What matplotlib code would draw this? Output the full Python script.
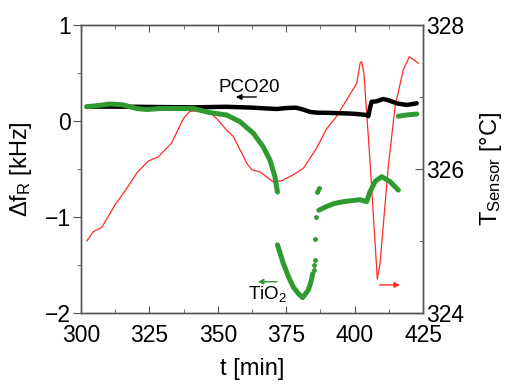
import matplotlib
matplotlib.use('Agg')
import matplotlib.pyplot as plt
from matplotlib.ticker import MultipleLocator

plt.rcParams['font.family'] = ['Liberation Sans', 'DejaVu Sans']
plt.rcParams['mathtext.default'] = 'regular'

# PCO20 sensor response
t_pco = [302.1, 310, 320, 330, 341, 353, 362, 371.5, 375, 378.5, 381.1, 383.7, 386.1, 390,
         395.9, 400, 404.4, 405.0, 405.5, 406.2, 408, 410.5, 412.5, 415.4, 419, 422.7]
f_pco = [0.149, 0.15, 0.148, 0.145, 0.142, 0.148, 0.14, 0.125, 0.135, 0.139, 0.12, 0.095, 0.087, 0.085,
         0.08, 0.075, 0.0625, 0.05, 0.12, 0.2, 0.205, 0.229, 0.215, 0.184, 0.167, 0.184]

# TiO2 sensor response (segments)
t_tio_a = [302.1, 306, 310.6, 315, 320.3, 324, 329, 335, 341, 347.1, 353.2, 358.1, 363, 366.6, 369.1, 370.9, 371.8]
f_tio_a = [0.149, 0.16, 0.177, 0.17, 0.13, 0.12, 0.13, 0.13, 0.13, 0.087, 0.0625, -0.007, -0.128, -0.27, -0.41, -0.58, -0.74]
t_tio_b = [371.8, 373.9, 375.8, 377.6, 379.5, 381.0, 383.1, 384.2, 384.7]
f_tio_b = [-1.29, -1.48, -1.62, -1.73, -1.80, -1.84, -1.76, -1.66, -1.59]
t_tio_dots = [385.0, 385.2, 385.5, 385.6, 385.8, 386.1, 386.5, 386.9]
f_tio_dots = [-1.55, -1.50, -1.45, -1.23, -1.00, -0.74, -0.72, -0.70]
t_tio_c = [386.9, 389.8, 392.5, 395.9, 399, 402, 404.4, 405.6, 407.5, 409.9, 412.9, 416]
f_tio_c = [-0.93, -0.89, -0.86, -0.84, -0.83, -0.82, -0.84, -0.74, -0.63, -0.58, -0.63, -0.72]
t_tio_d = [416, 419, 422.7]
f_tio_d = [0.05, 0.0625, 0.073]

# sensor temperature
t_temp = [302.1, 304.5, 307.6, 312.4, 316.7, 320.5, 324.6, 328.3, 333.1, 337.4, 339.8, 345.9, 349.6,
          353.2, 355.7, 360.6, 362.4, 365.4, 370.3, 373.5, 377.6, 381.3, 386.1, 389.8, 393.4, 397.1,
          400.8, 402.0, 402.6, 403.4, 405.6, 408.3, 409.3, 412.3, 414.8, 417.8, 420.0, 423.3]
T_temp = [325.00, 325.13, 325.19, 325.50, 325.73, 325.95, 326.11, 326.17, 326.36, 326.70, 326.80, 326.82, 326.70,
          326.54, 326.45, 326.08, 325.99, 325.96, 325.82, 325.84, 325.92, 326.01, 326.29, 326.56, 326.73, 326.96,
          327.19, 327.47, 327.49, 327.33, 326.13, 324.47, 324.69, 326.03, 326.87, 327.38, 327.56, 327.47]

green = '#2f9a2f'
red = '#ff2a2a'
spine_c = '#555555'

fig = plt.figure(figsize=(5.08, 3.87), dpi=100)
ax = fig.add_axes([81 / 508, 74 / 387, 342 / 508, 288 / 387])
ax2 = ax.twinx()

ax.plot(t_pco, f_pco, color='black', lw=3.2, solid_capstyle='round', solid_joinstyle='round', zorder=3)
for tt, ff in [(t_tio_a, f_tio_a), (t_tio_b, f_tio_b), (t_tio_c, f_tio_c), (t_tio_d, f_tio_d)]:
    ax.plot(tt, ff, color=green, lw=3.6, solid_capstyle='round', solid_joinstyle='round', zorder=4)
ax.plot(t_tio_dots, f_tio_dots, 'o', color=green, ms=3.5, mew=0, zorder=4)
ax2.plot(t_temp, T_temp, color=red, lw=0.9, zorder=5)

ax.set_xlim(300, 425)
ax.set_ylim(-2, 1)
ax2.set_ylim(324, 328)
ax.set_zorder(ax2.get_zorder() + 1)
ax.patch.set_visible(False)

ax.xaxis.set_major_locator(MultipleLocator(25))
ax.xaxis.set_minor_locator(MultipleLocator(12.5))
ax.yaxis.set_major_locator(MultipleLocator(1))
ax.yaxis.set_minor_locator(MultipleLocator(0.5))
ax2.yaxis.set_major_locator(MultipleLocator(2))
ax2.yaxis.set_minor_locator(MultipleLocator(1))

ax.tick_params(axis='x', which='both', direction='in', top=True, labelsize=16.5, pad=8, color=spine_c)
ax.tick_params(axis='x', which='major', length=5)
ax.tick_params(axis='x', which='minor', length=3)
ax.tick_params(axis='y', which='both', direction='out', labelsize=16.5, pad=1, color=spine_c)
ax.tick_params(axis='y', which='major', length=6)
ax.tick_params(axis='y', which='minor', length=3)
ax2.tick_params(axis='y', which='both', direction='in', labelsize=16.5, pad=2, color=spine_c)
ax2.tick_params(axis='y', which='major', length=6)
ax2.tick_params(axis='y', which='minor', length=3)
for a in (ax, ax2):
    for s in a.spines.values():
        s.set_color(spine_c)
        s.set_linewidth(1.0)

ax.set_xlabel('t [min]', fontsize=17, labelpad=8)
ax.set_ylabel('Δf$_R$ [kHz]', fontsize=17, labelpad=8)
ax2.set_ylabel('T$_{Sensor}$ [°C]', fontsize=17, labelpad=10)

# annotations
ax.text(361.4, 0.35, 'PCO20', fontsize=13.5, ha='center', va='center')
ax.annotate('', xy=(355.6, 0.25), xytext=(365.1, 0.25),
            arrowprops=dict(arrowstyle='-|>', color='black', lw=1.0, mutation_scale=8))
ax.text(368.3, -1.80, 'TiO$_2$', fontsize=13.5, ha='center', va='center')
ax.annotate('', xy=(363.6, -1.674), xytext=(372.7, -1.674),
            arrowprops=dict(arrowstyle='-|>', color=green, lw=1.0, mutation_scale=8))
ax2.annotate('', xy=(417.6, 324.39), xytext=(408.1, 324.39),
             arrowprops=dict(arrowstyle='-|>', color=red, lw=1.0, mutation_scale=8))

fig.savefig('out.png', dpi=100)
